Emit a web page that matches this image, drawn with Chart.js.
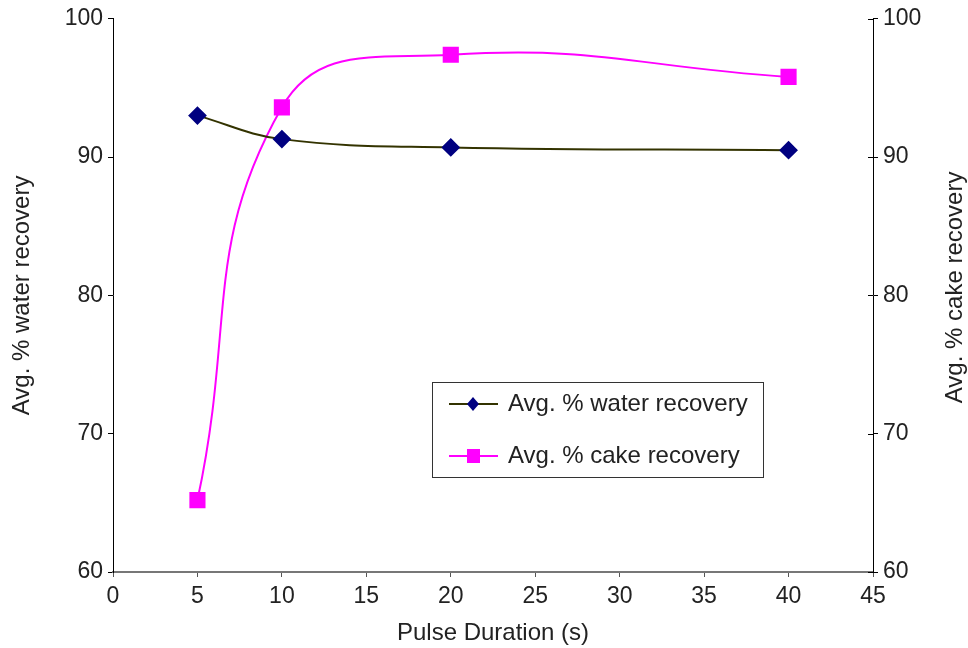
<!DOCTYPE html>
<html>
<head>
<meta charset="utf-8">
<script src="https://cdn.jsdelivr.net/npm/chart.js@4/dist/chart.umd.min.js"></script>
<style>
  body { margin: 0; background: #fff; }
  #wrap { width: 968px; height: 648px; }
</style>
</head>
<body>
<div id="wrap"><canvas id="myChart"></canvas></div>
<script>
// values
const pulseDuration = [5, 10, 20, 40];
const waterRecovery = [93.0, 91.3, 90.7, 90.5];
const cakeRecovery = [65.2, 93.6, 97.4, 95.8];
const xTicks = [0, 5, 10, 15, 20, 25, 30, 35, 40, 45];
const rightTitle = 'Avg. % cake recovery';

const FONT = 'Liberation Sans, Arial, sans-serif';
const FS = 23;   // tick labels
const FT = 24;   // titles and legend

// legend box inside the plot + right axis title read bottom-to-top + crossing ticks
const extras = {
    id: 'extras',
    afterDraw(chart) {
        const c = chart.ctx;
        const area = chart.chartArea;
        c.save();

        // small inner ticks on the right axis
        const y1 = chart.scales.y1;
        c.strokeStyle = '#000';
        c.lineWidth = 1;
        y1.ticks.forEach(function (t) {
            const py = Math.round(y1.getPixelForValue(t.value)) + 0.5;
            c.beginPath();
            c.moveTo(area.right - 5, py);
            c.lineTo(area.right, py);
            c.stroke();
        });

        // right title
        c.fillStyle = '#222';
        c.font = FT + 'px ' + FONT;
        c.textAlign = 'center';
        c.textBaseline = 'middle';
        c.translate(955, (area.top + area.bottom) / 2 - 8);
        c.rotate(-Math.PI / 2);
        c.fillText(rightTitle, 0, 0);
        c.restore();

        // legend
        c.save();
        const x = 432, y = 382, w = 331, h = 95;
        c.fillStyle = '#fff';
        c.fillRect(x, y, w, h);
        c.strokeStyle = '#333';
        c.lineWidth = 1;
        c.strokeRect(x + 0.5, y + 0.5, w, h);
        chart.data.datasets.forEach(function (ds, i) {
            const ly = y + 22 + i * 52;
            c.strokeStyle = ds.borderColor;
            c.lineWidth = 2;
            c.beginPath();
            c.moveTo(x + 17, ly);
            c.lineTo(x + 66, ly);
            c.stroke();
            c.fillStyle = ds.pointBackgroundColor;
            if (ds.pointStyle === 'rectRot') {
                c.beginPath();
                c.moveTo(x + 41, ly - 7);
                c.lineTo(x + 47, ly);
                c.lineTo(x + 41, ly + 7);
                c.lineTo(x + 35, ly);
                c.closePath();
                c.fill();
            } else {
                c.fillRect(x + 35, ly - 7, 13, 14);
            }
            c.fillStyle = '#222';
            c.font = FT + 'px ' + FONT;
            c.textAlign = 'left';
            c.textBaseline = 'middle';
            c.fillText(ds.label, x + 76, ly);
        });
        c.restore();
    }
};

const ctx = document.getElementById('myChart');

new Chart(ctx, {
    type: 'line',
    data: {
        datasets: [
            {
                label: 'Avg. % water recovery',
                data: pulseDuration.map((p, i) => ({ x: p, y: waterRecovery[i] })),
                borderColor: '#333300',
                borderWidth: 2,
                pointStyle: 'rectRot',
                pointRadius: 8,
                pointBackgroundColor: '#000080',
                pointBorderColor: '#000080',
                tension: 0.4,
                yAxisID: 'y'
            },
            {
                label: 'Avg. % cake recovery',
                data: pulseDuration.map((p, i) => ({ x: p, y: cakeRecovery[i] })),
                borderColor: '#ff00ff',
                borderWidth: 2,
                pointStyle: 'rect',
                pointRadius: 10,
                pointBackgroundColor: '#ff00ff',
                pointBorderColor: '#ff00ff',
                tension: 0.45,
                yAxisID: 'y1'
            }
        ]
    },
    options: {
        responsive: true,
        maintainAspectRatio: false,
        animation: false,
        layout: { padding: { top: 16, right: 0, left: 0, bottom: 0 } },
        plugins: {
            legend: { display: false },
            tooltip: { enabled: false }
        },
        scales: {
            x: {
                type: 'linear',
                min: 0,
                max: 45,
                afterBuildTicks: function (axis) {
                    axis.ticks = xTicks.map(v => ({ value: v }));
                },
                afterFit: function (axis) { axis.height = 76; },
                grid: { drawOnChartArea: false, drawTicks: true, tickLength: 5, tickColor: '#555' },
                border: { color: '#777', width: 2 },
                ticks: { color: '#222', font: { family: FONT, size: FS }, padding: 6, maxRotation: 0 },
                title: {
                    display: true,
                    text: 'Pulse Duration (s)',
                    color: '#222',
                    font: { family: FONT, size: FT },
                    padding: { top: 4, bottom: 0 }
                }
            },
            y: {
                position: 'left',
                min: 60,
                max: 100,
                afterFit: function (axis) { axis.width = 113; },
                ticks: { stepSize: 10, color: '#222', font: { family: FONT, size: FS }, padding: 5 },
                grid: { drawOnChartArea: false, drawTicks: true, tickLength: 5, tickColor: '#000' },
                border: { color: '#000', width: 1 },
                title: {
                    display: true,
                    text: 'Avg. % water recovery',
                    color: '#222',
                    font: { family: FONT, size: FT },
                    padding: { top: 8, bottom: 0 }
                }
            },
            y1: {
                position: 'right',
                min: 60,
                max: 100,
                afterFit: function (axis) { axis.width = 95; },
                ticks: { stepSize: 10, color: '#222', font: { family: FONT, size: FS }, padding: 5 },
                grid: { drawOnChartArea: false, drawTicks: true, tickLength: 5, tickColor: '#000' },
                border: { color: '#000', width: 1 }
            }
        }
    },
    plugins: [extras]
});
</script>
</body>
</html>
